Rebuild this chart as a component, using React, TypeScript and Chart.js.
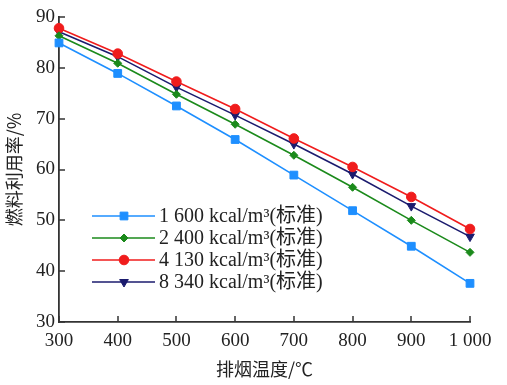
import React, { useEffect, useRef } from "react";
import { Chart, registerables } from "chart.js";

Chart.register(...registerables);

const temperatures = [300, 400, 500, 600, 700, 800, 900, 1000];
const series1600 = [84.9, 78.9, 72.5, 65.9, 58.9, 51.9, 44.9, 37.6];
const series2400 = [86.3, 80.9, 74.8, 68.9, 62.8, 56.5, 50.0, 43.7];
const series4130 = [87.8, 82.8, 77.3, 71.9, 66.1, 60.5, 54.6, 48.3];
const series8340 = [87.1, 82.2, 76.2, 70.7, 65.0, 59.1, 52.8, 46.8];
const seriesLabels = [
  "1 600 kcal/m³(标准)",
  "2 400 kcal/m³(标准)",
  "4 130 kcal/m³(标准)",
  "8 340 kcal/m³(标准)",
];
const xTicks = [300, 400, 500, 600, 700, 800, 900, 1000];
const yTicks = [30, 40, 50, 60, 70, 80, 90];
const xTitle = "排烟温度/℃";
const yTitle = "燃料利用率/%";

const SERIF = "'Liberation Serif', 'Noto Sans CJK SC', serif";
const CJK = "'Noto Sans CJK SC', sans-serif";

const styles = [
  { color: "#1e8fff", point: "rect", radius: 5.5, rotation: 0 },
  { color: "#1b8a1b", point: "rectRot", radius: 4, rotation: 0 },
  { color: "#f01c1c", point: "circle", radius: 4.8, rotation: 0 },
  { color: "#1b1b6e", point: "triangle", radius: 5, rotation: 180 },
];

const allSeries = [series1600, series2400, series4130, series8340];

function drawMarker(ctx: CanvasRenderingContext2D, kind: string, r: number, x: number, y: number) {
  ctx.beginPath();
  if (kind === "rect") {
    const s = r * Math.SQRT1_2 * 2;
    ctx.rect(x - s / 2, y - s / 2, s, s);
  } else if (kind === "rectRot") {
    ctx.moveTo(x, y - r);
    ctx.lineTo(x + r, y);
    ctx.lineTo(x, y + r);
    ctx.lineTo(x - r, y);
    ctx.closePath();
  } else if (kind === "circle") {
    ctx.arc(x, y, r, 0, Math.PI * 2);
  } else {
    ctx.moveTo(x, y + r);
    ctx.lineTo(x + r * 0.866, y - r / 2);
    ctx.lineTo(x - r * 0.866, y - r / 2);
    ctx.closePath();
  }
  ctx.fill();
  ctx.stroke();
}

const tickPlugin = {
  id: "innerTicks",
  afterDatasetsDraw(chart: any) {
    const ctx = chart.ctx;
    const xs = chart.scales.x;
    const ys = chart.scales.y;
    const area = chart.chartArea;
    ctx.save();
    ctx.strokeStyle = "#333";
    ctx.lineWidth = 1.5;
    ctx.beginPath();
    xTicks.forEach((v) => {
      const px = Math.round(xs.getPixelForValue(v));
      ctx.moveTo(px, area.bottom);
      ctx.lineTo(px, area.bottom - 6);
    });
    yTicks.forEach((v) => {
      const py = Math.round(ys.getPixelForValue(v));
      ctx.moveTo(area.left, py);
      ctx.lineTo(area.left + 6, py);
    });
    ctx.stroke();
    ctx.restore();
  },
};

const legendPlugin = {
  id: "insideLegend",
  afterDraw(chart: any) {
    const ctx = chart.ctx;
    const x0 = 92;
    const x1 = 155;
    const mx = 124;
    const tx = 159;
    const y0 = 216;
    const dy = 22;
    ctx.save();
    chart.data.datasets.forEach((ds: any, i: number) => {
      const y = y0 + i * dy;
      const st = styles[i];
      ctx.strokeStyle = st.color;
      ctx.lineWidth = 1.6;
      ctx.beginPath();
      ctx.moveTo(x0, y);
      ctx.lineTo(x1, y);
      ctx.stroke();
      ctx.fillStyle = st.color;
      ctx.lineWidth = 1;
      drawMarker(ctx, st.point, st.radius, mx, y);
      ctx.fillStyle = "#222";
      ctx.font = `20px ${SERIF}`;
      ctx.textBaseline = "middle";
      ctx.textAlign = "left";
      ctx.fillText(ds.label, tx, y + 1);
    });
    ctx.restore();
  },
};

export default function App() {
  const ref = useRef<HTMLCanvasElement | null>(null);
  useEffect(() => {
    if (!ref.current) return;
    const chart = new Chart(ref.current, {
      type: "line",
      data: {
        datasets: allSeries.map((s, i) => ({
          label: seriesLabels[i],
          data: temperatures.map((t, j) => ({ x: t, y: s[j] })),
          borderColor: styles[i].color,
          backgroundColor: styles[i].color,
          borderWidth: 1.6,
          pointStyle: styles[i].point as any,
          pointRadius: styles[i].radius,
          pointRotation: styles[i].rotation,
          pointBorderWidth: 1,
          tension: 0,
          clip: false as any,
        })),
      },
      options: {
        animation: false,
        responsive: false,
        maintainAspectRatio: false,
        layout: { padding: { top: 17, right: 37, left: 0, bottom: 0 } },
        plugins: {
          legend: { display: false },
          tooltip: { enabled: false },
        },
        scales: {
          x: {
            type: "linear",
            min: 300,
            max: 1000,
            afterFit(scale: any) {
              scale.height = 63;
            },
            afterBuildTicks(scale: any) {
              scale.ticks = xTicks.map((v) => ({ value: v }));
            },
            grid: { display: false, drawTicks: false },
            border: { display: true, color: "#333", width: 1.8 },
            ticks: {
              padding: 8,
              color: "#222",
              font: { family: SERIF, size: 19 },
              maxRotation: 0,
              callback: (v: any) => (Number(v) >= 1000 ? "1 000" : String(v)),
            },
            title: {
              display: true,
              text: xTitle,
              color: "#222",
              font: { family: CJK, size: 18 },
              padding: { top: 0, bottom: 5 },
            },
          },
          y: {
            type: "linear",
            min: 30,
            max: 90,
            afterFit(scale: any) {
              scale.width = 59;
            },
            afterBuildTicks(scale: any) {
              scale.ticks = yTicks.map((v) => ({ value: v }));
            },
            grid: { display: false, drawTicks: false },
            border: { display: true, color: "#333", width: 1.8 },
            ticks: {
              padding: 4,
              color: "#222",
              font: { family: SERIF, size: 19 },
            },
            title: {
              display: true,
              text: yTitle,
              color: "#222",
              font: { family: CJK, size: 18 },
              padding: { top: 3, bottom: 0 },
            },
          },
        },
      },
      plugins: [tickPlugin, legendPlugin],
    });
    return () => chart.destroy();
  }, []);
  return (
    <div style={{ position: "fixed", left: 0, top: 0, width: 507, height: 385, background: "#fff" }}>
      <canvas ref={ref} width={507} height={385} style={{ width: 507, height: 385 }} />
    </div>
  );
}
